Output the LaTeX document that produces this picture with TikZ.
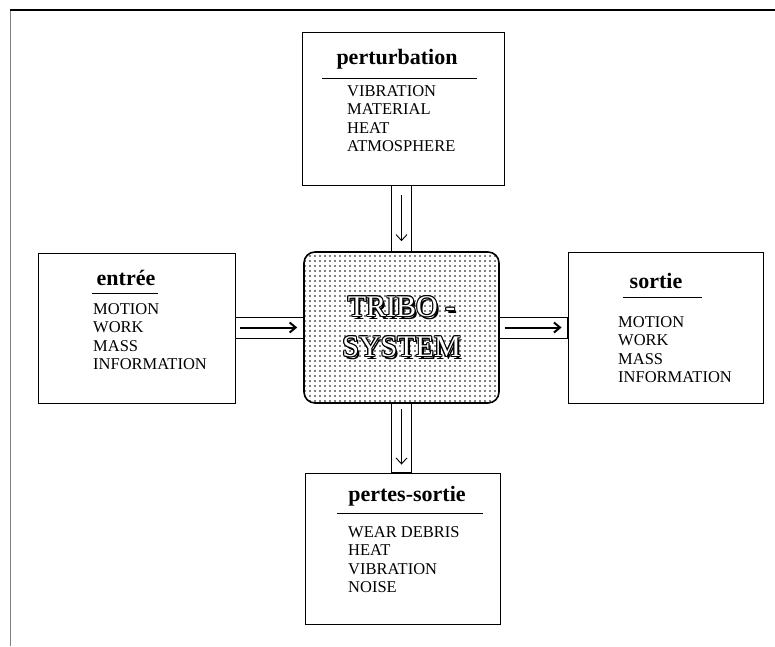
\documentclass[tikz,border=0pt]{standalone}
\usepackage{fontspec}
\setmainfont{Liberation Serif}
\usepackage{contour}
\contourlength{1.1pt}
\contournumber{8}
\usetikzlibrary{calc,patterns.meta,arrows.meta}

\tikzset{
  panel/.style={draw, line width=0.9pt, minimum width=197pt, minimum height=151pt, inner sep=0pt},
  heading/.style={inner sep=0pt, font=\fontsize{22}{24}\selectfont\bfseries},
  itemlist/.style={inner sep=0pt, anchor=north west, align=left, font=\fontsize{16.5}{18.5}\selectfont},
  rule/.style={line width=0.8pt},
  chan/.style={draw, line width=0.8pt},
  flowh/.style={-{Straight Barb[length=6pt,width=10pt]}, line width=2pt},
  flowv/.style={-{Straight Barb[length=6pt,width=11pt]}, line width=0.9pt},
  bigword/.style={inner sep=0pt, align=center, font=\fontsize{30}{40}\selectfont},
}

\begin{document}
\begin{tikzpicture}[x=1pt, y=-1pt]
  \useasboundingbox (0,0) rectangle (775,646);
  % Frame
  \draw[line width=0.6pt, gray] (10,646) -- (10,10);
  \draw[line width=1.2pt] (10,10) -- (775,10);
  % Central block
  \node[draw, line width=1.6pt, rounded corners=11pt, pattern={Dots[distance=5pt,radius=0.8pt]},
        minimum width=195pt, minimum height=151pt] (tribo) at (401.5,327.5) {};
  \node[bigword] (triboshadow) at ([xshift=2.2pt,yshift=-2.2pt]tribo.center) {TRIBO -\\SYSTEM};
  \node[bigword, text=white] (tribotext) at (tribo.center)
    {\contour{black}{TRIBO -}\\\contour{black}{SYSTEM}};
  % Boxes
  \node[panel, minimum width=202pt, minimum height=153pt] (perturb) at (403,108.5) {};
  \node[panel, minimum height=150pt] (entree) at (136.5,328) {};
  \node[panel, minimum width=195pt] (sortie) at (665.5,327.5) {};
  \node[panel, minimum width=195pt] (pertes) at (402.5,548.5) {};
  % Titles
  \node[heading] (perturbhead) at (397,59) {perturbation};
  \node[heading] (entreehead) at (126,278) {entrée};
  \node[heading] (sortiehead) at (656,281) {sortie};
  \node[heading] (perteshead) at (407,496) {pertes-sortie};
  % Separators
  \draw[rule] (322,78) -- (477,78);
  \draw[rule] (92,293) -- (158,293);
  \draw[rule] (623,297) -- (702,297);
  \draw[rule] (337,513) -- (483,513);
  % Item lists
  \node[itemlist] (perturbitems) at (347,85) {VIBRATION\\MATERIAL\\HEAT\\ATMOSPHERE};
  \node[itemlist] (entreeitems) at (93,303) {MOTION\\WORK\\MASS\\INFORMATION};
  \node[itemlist] (sortieitems) at (618,316) {MOTION\\WORK\\MASS\\INFORMATION};
  \node[itemlist] (pertesitems) at (348,526) {WEAR DEBRIS\\HEAT\\VIBRATION\\NOISE};
  % Channels
  \draw[chan] ($(tribo.north |- perturb.south)+(-10,0)$) rectangle ($(tribo.north)+(10,0)$);
  \draw[chan] ($(tribo.south)+(-10,0)$) rectangle ($(tribo.south |- pertes.north)+(10,0)$);
  \draw[chan] ($(entree.east |- tribo.west)+(0,-10.5)$) rectangle ($(tribo.west)+(0,10.5)$);
  \draw[chan] ($(tribo.east)+(0,-10.5)$) rectangle ($(sortie.west |- tribo.east)+(0,10.5)$);
  % Arrows
  \draw[flowv, shorten <=10pt, shorten >=10pt] (tribo.north |- perturb.south) -- (tribo.north);
  \draw[flowv, shorten <=5pt, shorten >=8pt] (tribo.south) -- (tribo.south |- pertes.north);
  \draw[flowh, shorten <=5pt, shorten >=6pt] (entree.east |- tribo.west) -- (tribo.west);
  \draw[flowh, shorten <=5pt, shorten >=6pt] (tribo.east) -- (sortie.west |- tribo.east);
\end{tikzpicture}
\end{document}
